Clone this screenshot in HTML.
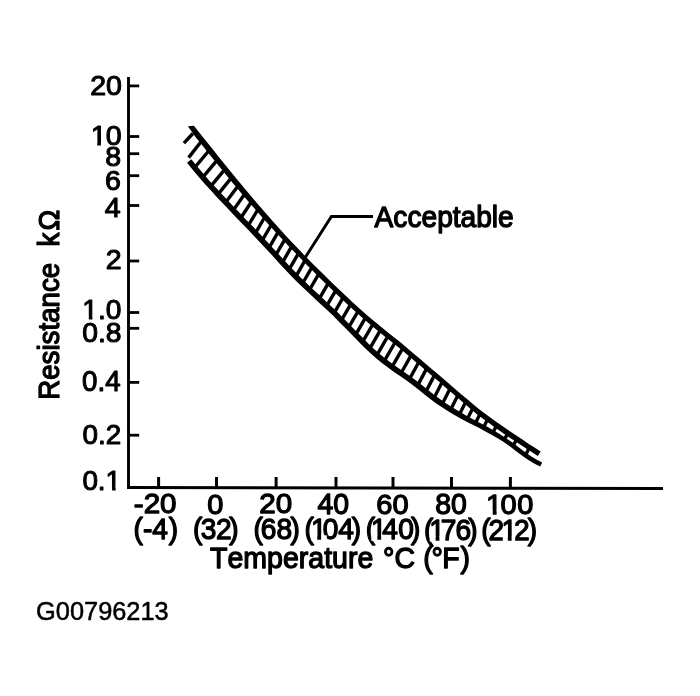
<!DOCTYPE html>
<html><head><meta charset="utf-8"><title>Resistance vs Temperature</title>
<style>
html,body{margin:0;padding:0;background:#fff;}
svg{display:block;}
text{font-family:"Liberation Sans",sans-serif;fill:#000;font-kerning:none;}
</style></head>
<body>
<svg width="700" height="696" viewBox="0 0 700 696">
<rect width="700" height="696" fill="#fff"/>
<g id="axes">
<line x1="128.5" y1="77" x2="128.5" y2="489" stroke="#000" stroke-width="2.9"/>
<line x1="127.3" y1="487.5" x2="663" y2="488.5" stroke="#000" stroke-width="3"/>
<line x1="129" y1="85.9" x2="139.2" y2="85.9" stroke="#000" stroke-width="2.8"/>
<line x1="129" y1="136.5" x2="139.2" y2="136.5" stroke="#000" stroke-width="2.8"/>
<line x1="129" y1="153.7" x2="139.2" y2="153.7" stroke="#000" stroke-width="2.8"/>
<line x1="129" y1="175.7" x2="139.2" y2="175.7" stroke="#000" stroke-width="2.8"/>
<line x1="129" y1="205.5" x2="139.2" y2="205.5" stroke="#000" stroke-width="2.8"/>
<line x1="129" y1="261" x2="139.2" y2="261" stroke="#000" stroke-width="2.8"/>
<line x1="129" y1="312.5" x2="139.2" y2="312.5" stroke="#000" stroke-width="2.8"/>
<line x1="129" y1="328.3" x2="139.2" y2="328.3" stroke="#000" stroke-width="2.8"/>
<line x1="129" y1="382.4" x2="139.2" y2="382.4" stroke="#000" stroke-width="2.8"/>
<line x1="129" y1="435.2" x2="139.2" y2="435.2" stroke="#000" stroke-width="2.8"/>
<line x1="158.6" y1="477" x2="158.6" y2="487.8" stroke="#000" stroke-width="3"/>
<line x1="216.5" y1="477" x2="216.5" y2="487.8" stroke="#000" stroke-width="3"/>
<line x1="276.1" y1="477" x2="276.1" y2="487.8" stroke="#000" stroke-width="3"/>
<line x1="336.0" y1="477" x2="336.0" y2="487.8" stroke="#000" stroke-width="3"/>
<line x1="393" y1="477" x2="393" y2="487.8" stroke="#000" stroke-width="3"/>
<line x1="451.5" y1="477" x2="451.5" y2="487.8" stroke="#000" stroke-width="3"/>
<line x1="510.4" y1="477" x2="510.4" y2="487.8" stroke="#000" stroke-width="3"/>
<polyline points="305.2,257.5 331.4,216.5 373,216.5" fill="none" stroke="#000" stroke-width="2.9"/>
</g>
<g id="band">
<polygon points="193.9,125.8 200.0,133.4 206.1,141.0 212.1,148.6 218.2,156.2 224.3,163.7 230.4,171.3 236.5,178.7 242.6,186.1 248.6,193.3 254.7,200.5 260.8,207.6 266.9,214.6 273.0,221.5 279.1,228.2 285.1,234.9 291.2,241.4 297.3,247.8 303.4,254.2 309.5,260.4 315.5,266.6 321.6,272.6 327.7,278.6 333.8,284.5 339.9,290.3 346.0,296.1 352.0,301.7 358.1,307.3 364.2,312.7 370.3,318.0 376.4,323.1 382.5,328.1 388.5,333.0 394.6,337.8 400.7,342.6 406.8,347.8 412.9,352.9 419.0,358.1 425.0,363.3 431.1,368.4 437.2,373.6 443.3,378.8 449.4,384.0 455.4,389.2 461.5,394.4 467.6,399.6 473.7,404.7 479.8,409.8 485.9,414.3 491.9,418.7 498.0,423.0 504.1,427.3 510.2,431.5 516.3,435.6 522.4,439.6 528.4,443.7 534.5,447.6 540.6,451.4 537.8,455.9 531.7,452.1 525.5,448.1 519.4,444.0 513.3,440.0 507.2,435.9 501.1,431.7 495.0,427.4 488.9,423.0 482.8,418.5 476.6,413.9 470.4,408.7 464.3,403.5 458.2,398.3 452.1,393.1 446.1,387.9 440.0,382.6 434.0,377.4 427.9,372.2 421.8,367.1 415.7,361.9 409.6,356.7 403.6,351.6 397.5,346.5 391.5,341.7 385.4,336.9 379.3,332.0 373.2,326.9 367.0,321.8 360.9,316.5 354.8,311.0 348.6,305.4 342.5,299.7 336.4,293.9 330.3,288.1 324.2,282.2 318.1,276.2 312.0,270.1 305.9,263.9 299.8,257.6 293.7,251.3 287.5,244.9 281.4,238.3 275.2,231.7 269.0,225.0 262.9,218.1 256.7,211.1 250.6,204.0 244.4,196.9 238.3,189.6 232.1,182.3 226.0,174.8 219.9,167.3 213.8,159.8 207.7,152.2 201.6,144.6 195.5,137.0 187.9,126.2" fill="#000"/>
<polygon points="187.0,162.8 193.1,170.3 199.2,177.5 205.3,184.4 211.4,191.1 217.4,197.7 223.5,204.1 229.6,210.5 235.7,216.9 241.8,223.3 247.9,229.5 254.0,235.9 260.1,242.4 266.2,249.0 272.3,255.6 278.3,262.2 284.4,268.8 290.5,275.2 296.6,281.4 302.7,287.3 308.8,293.1 314.9,298.7 321.0,304.4 327.1,310.0 333.2,315.8 339.2,321.9 345.3,328.1 351.4,334.3 357.5,340.5 363.6,346.7 369.7,352.6 375.8,358.1 381.9,363.0 388.0,367.6 394.0,371.9 400.1,376.1 406.2,380.3 412.3,384.7 418.4,389.5 424.5,394.4 430.6,399.2 436.7,403.7 442.8,407.8 448.9,411.7 454.9,415.3 461.0,418.7 467.1,421.9 473.2,425.1 479.3,428.1 485.4,431.4 491.5,434.8 497.6,438.3 503.7,442.1 509.8,446.3 515.8,450.9 521.9,455.4 528.0,459.8 534.1,463.6 540.2,466.6 542.2,462.5 536.4,459.6 530.6,456.0 524.6,451.7 518.6,447.2 512.4,442.6 506.2,438.3 500.0,434.3 493.8,430.6 487.7,427.1 481.6,423.8 475.5,420.6 469.5,417.4 463.6,414.1 457.6,410.6 451.7,407.0 445.8,403.2 439.9,399.1 434.0,394.7 428.0,390.0 421.9,385.1 415.7,380.3 409.5,375.8 403.3,371.5 397.3,367.3 391.3,363.1 385.3,358.6 379.4,353.8 373.5,348.5 367.5,342.7 361.5,336.6 355.4,330.4 349.3,324.2 343.2,317.9 337.1,311.8 330.9,305.9 324.8,300.3 318.7,294.6 312.6,289.0 306.6,283.3 300.6,277.4 294.6,271.3 288.5,265.0 282.5,258.4 276.4,251.8 270.3,245.2 264.2,238.6 258.1,232.0 251.9,225.6 245.8,219.4 239.8,213.1 233.7,206.7 227.6,200.3 221.5,193.8 215.5,187.3 209.4,180.7 203.4,173.8 197.4,166.8 191.3,159.3" fill="#000"/>
<line x1="192.9" y1="133.5" x2="183.9" y2="143.2" stroke="#000" stroke-width="3.4"/>
<line x1="201.6" y1="141.0" x2="188.6" y2="157.6" stroke="#000" stroke-width="3.4"/>
<line x1="209.1" y1="150.5" x2="194.4" y2="167.8" stroke="#000" stroke-width="3.4"/>
<line x1="217.0" y1="160.3" x2="202.7" y2="177.3" stroke="#000" stroke-width="3.4"/>
<line x1="224.6" y1="169.7" x2="210.7" y2="186.3" stroke="#000" stroke-width="3.4"/>
<line x1="231.3" y1="177.9" x2="218.0" y2="194.4" stroke="#000" stroke-width="3.4"/>
<line x1="238.0" y1="185.9" x2="225.6" y2="202.5" stroke="#000" stroke-width="3.4"/>
<line x1="244.7" y1="193.9" x2="233.1" y2="210.4" stroke="#000" stroke-width="3.4"/>
<line x1="251.4" y1="201.7" x2="240.6" y2="218.2" stroke="#000" stroke-width="3.4"/>
<line x1="258.0" y1="209.4" x2="248.0" y2="225.8" stroke="#000" stroke-width="3.4"/>
<line x1="264.8" y1="217.0" x2="255.3" y2="233.5" stroke="#000" stroke-width="3.4"/>
<line x1="271.5" y1="224.5" x2="262.1" y2="240.7" stroke="#000" stroke-width="3.4"/>
<line x1="278.2" y1="231.9" x2="268.9" y2="248.1" stroke="#000" stroke-width="3.4"/>
<line x1="285.0" y1="239.1" x2="275.6" y2="255.3" stroke="#000" stroke-width="3.4"/>
<line x1="291.8" y1="246.2" x2="282.3" y2="262.7" stroke="#000" stroke-width="3.4"/>
<line x1="298.5" y1="253.3" x2="289.0" y2="269.7" stroke="#000" stroke-width="3.4"/>
<line x1="305.2" y1="260.2" x2="295.8" y2="276.6" stroke="#000" stroke-width="3.4"/>
<line x1="312.0" y1="267.1" x2="302.5" y2="283.5" stroke="#000" stroke-width="3.4"/>
<line x1="318.8" y1="273.8" x2="309.4" y2="290.0" stroke="#000" stroke-width="3.4"/>
<line x1="328.3" y1="283.1" x2="319.1" y2="299.1" stroke="#000" stroke-width="3.4"/>
<line x1="335.8" y1="290.3" x2="326.6" y2="306.1" stroke="#000" stroke-width="3.4"/>
<line x1="343.2" y1="297.4" x2="334.1" y2="313.1" stroke="#000" stroke-width="3.4"/>
<line x1="350.6" y1="304.3" x2="341.4" y2="320.3" stroke="#000" stroke-width="3.4"/>
<line x1="358.1" y1="311.1" x2="348.6" y2="327.5" stroke="#000" stroke-width="3.4"/>
<line x1="365.5" y1="317.6" x2="355.6" y2="334.9" stroke="#000" stroke-width="3.4"/>
<line x1="373.0" y1="324.0" x2="362.6" y2="341.9" stroke="#000" stroke-width="3.4"/>
<line x1="380.4" y1="330.1" x2="369.6" y2="348.9" stroke="#000" stroke-width="3.4"/>
<line x1="387.9" y1="336.1" x2="376.8" y2="355.3" stroke="#000" stroke-width="3.4"/>
<line x1="395.3" y1="342.0" x2="384.1" y2="361.4" stroke="#000" stroke-width="3.4"/>
<line x1="402.8" y1="348.1" x2="391.9" y2="367.1" stroke="#000" stroke-width="3.4"/>
<line x1="411.2" y1="355.2" x2="400.9" y2="373.5" stroke="#000" stroke-width="3.4"/>
<line x1="419.0" y1="361.8" x2="409.4" y2="379.3" stroke="#000" stroke-width="3.4"/>
<line x1="426.7" y1="368.4" x2="417.7" y2="385.4" stroke="#000" stroke-width="3.4"/>
<line x1="434.5" y1="375.1" x2="425.8" y2="391.9" stroke="#000" stroke-width="3.4"/>
<line x1="442.3" y1="381.8" x2="433.9" y2="398.2" stroke="#000" stroke-width="3.4"/>
<line x1="450.1" y1="388.5" x2="442.1" y2="404.3" stroke="#000" stroke-width="3.4"/>
<line x1="457.9" y1="395.2" x2="450.6" y2="409.7" stroke="#000" stroke-width="3.4"/>
<line x1="465.7" y1="401.9" x2="459.2" y2="414.8" stroke="#000" stroke-width="3.4"/>
<line x1="472.9" y1="408.0" x2="467.3" y2="419.1" stroke="#000" stroke-width="3.4"/>
<line x1="480.1" y1="413.8" x2="475.3" y2="423.4" stroke="#000" stroke-width="3.4"/>
<line x1="487.6" y1="419.3" x2="483.4" y2="427.8" stroke="#000" stroke-width="3.4"/>
<line x1="496.4" y1="425.7" x2="492.8" y2="433.1" stroke="#000" stroke-width="3.4"/>
<line x1="507.5" y1="433.4" x2="504.3" y2="439.9" stroke="#000" stroke-width="3.4"/>
<line x1="516.4" y1="439.4" x2="513.2" y2="446.2" stroke="#000" stroke-width="3.4"/>
<line x1="529.1" y1="447.8" x2="525.5" y2="455.5" stroke="#000" stroke-width="3.4"/>
</g>
<g id="labels">
<text transform="translate(90.15,95.28) scale(0.9850,0.9850)" font-size="29" stroke="#000" stroke-width="1.1" stroke-linejoin="round">20</text>
<text transform="translate(0.00,145.28) scale(0.9850,0.9850)" font-size="29" x="92.02 107.32" stroke="#000" stroke-width="1.1" stroke-linejoin="round">10</text>
<text transform="translate(105.25,165.82) scale(0.9850,0.9850)" font-size="29" stroke="#000" stroke-width="1.1" stroke-linejoin="round">8</text>
<text transform="translate(105.05,190.28) scale(0.9850,0.9850)" font-size="29" stroke="#000" stroke-width="1.1" stroke-linejoin="round">6</text>
<text transform="translate(104.80,216.62) scale(0.9850,0.9850)" font-size="29" stroke="#000" stroke-width="1.1" stroke-linejoin="round">4</text>
<text transform="translate(105.80,269.45) scale(0.9850,0.9850)" font-size="29" stroke="#000" stroke-width="1.1" stroke-linejoin="round">2</text>
<text transform="translate(82.30,319.43) scale(0.9700,0.9850)" font-size="29" stroke="#000" stroke-width="1.1" stroke-linejoin="round">1.0</text>
<text transform="translate(82.30,342.23) scale(0.9750,0.9850)" font-size="29" stroke="#000" stroke-width="1.1" stroke-linejoin="round">0.8</text>
<text transform="translate(82.05,391.12) scale(0.9550,0.9850)" font-size="29" stroke="#000" stroke-width="1.1" stroke-linejoin="round">0.4</text>
<text transform="translate(82.55,444.48) scale(0.9600,0.9850)" font-size="29" stroke="#000" stroke-width="1.1" stroke-linejoin="round">0.2</text>
<text transform="translate(82.40,489.67) scale(0.9600,0.9850)" font-size="29" stroke="#000" stroke-width="1.1" stroke-linejoin="round">0.1</text>
<text transform="translate(133.80,513.20) scale(1.0200,0.9850)" font-size="29" stroke="#000" stroke-width="1.3" stroke-linejoin="round">-20</text>
<text transform="translate(207.18,513.95) scale(1.0000,0.9850)" font-size="29" stroke="#000" stroke-width="1.3" stroke-linejoin="round">0</text>
<text transform="translate(259.27,513.05) scale(1.0200,0.9850)" font-size="29" stroke="#000" stroke-width="1.3" stroke-linejoin="round">20</text>
<text transform="translate(317.52,513.55) scale(0.9800,0.9850)" font-size="29" stroke="#000" stroke-width="1.3" stroke-linejoin="round">40</text>
<text transform="translate(376.30,514.00) scale(1.0000,0.9850)" font-size="29" stroke="#000" stroke-width="1.3" stroke-linejoin="round">60</text>
<text transform="translate(435.27,514.15) scale(0.9800,0.9850)" font-size="29" stroke="#000" stroke-width="1.3" stroke-linejoin="round">80</text>
<text transform="translate(0.00,514.40) scale(1.0000,0.9850)" font-size="29" x="486.10 500.39 517.19" stroke="#000" stroke-width="1.3" stroke-linejoin="round">100</text>
<text transform="translate(0.00,539.12) scale(0.9700,1.0000)" font-size="29" x="137.74 147.34 156.87 173.95" stroke="#000" stroke-width="1.3" stroke-linejoin="round">(-4)</text>
<text transform="translate(0.00,539.03) scale(0.9700,1.0000)" font-size="29" x="198.97 206.92 222.71 236.42" stroke="#000" stroke-width="1.3" stroke-linejoin="round">(32)</text>
<text transform="translate(0.00,539.03) scale(0.9700,1.0000)" font-size="29" x="261.45 268.85 285.18 299.41" stroke="#000" stroke-width="1.3" stroke-linejoin="round">(68)</text>
<text transform="translate(0.00,539.12) scale(0.9700,1.0000)" font-size="29" x="314.03 320.51 332.71 348.73 362.61" stroke="#000" stroke-width="1.3" stroke-linejoin="round">(104)</text>
<text transform="translate(0.00,539.38) scale(0.9700,1.0000)" font-size="29" x="377.12 382.36 394.09 410.49 423.84" stroke="#000" stroke-width="1.3" stroke-linejoin="round">(140)</text>
<text transform="translate(0.00,539.92) scale(0.9700,1.0000)" font-size="29" x="437.12 442.47 454.34 469.62 482.81" stroke="#000" stroke-width="1.3" stroke-linejoin="round">(176)</text>
<text transform="translate(0.00,540.47) scale(0.9700,1.0000)" font-size="29" x="496.19 503.74 516.90 529.93 544.15" stroke="#000" stroke-width="1.3" stroke-linejoin="round">(212)</text>
<text transform="translate(374.59,226.51) scale(0.9703,1.0211)" font-size="29" stroke="#000" stroke-width="1.3" stroke-linejoin="round">Acceptable</text>
<text transform="translate(36.10,620.19) scale(0.9989,1.0162)" font-size="25.4" stroke="#000" stroke-width="0.5" stroke-linejoin="round">G00796213</text>
<text transform="translate(0,567.94) scale(0.9834,0.995)" font-size="29" stroke="#000" stroke-width="1.3" stroke-linejoin="round"><tspan x="213.66">Temperature </tspan><tspan x="389.51">°C </tspan><tspan x="430.34 438.90 449.79 468.29">(°F)</tspan></text>
<text transform="translate(59.18,399.87) scale(1.0200,0.9560) rotate(-90)" font-size="29" stroke="#000" stroke-width="1.3" stroke-linejoin="round">Resistance <tspan x="160.42 177.06">kΩ</tspan></text>
</g>
<g id="one-foot-mask">
<rect x="91.27" y="141.59" width="5.99" height="5.23" fill="#fff"/>
<rect x="100.92" y="141.59" width="5.76" height="5.23" fill="#fff"/>
<rect x="82.89" y="315.74" width="5.91" height="5.23" fill="#fff"/>
<rect x="92.43" y="315.74" width="5.69" height="5.23" fill="#fff"/>
<rect x="106.19" y="485.99" width="5.86" height="5.23" fill="#fff"/>
<rect x="115.65" y="485.99" width="5.64" height="5.23" fill="#fff"/>
<rect x="486.66" y="510.62" width="6.06" height="5.43" fill="#fff"/>
<rect x="496.62" y="510.62" width="5.84" height="5.43" fill="#fff"/>
<rect x="311.38" y="535.31" width="5.91" height="5.47" fill="#fff"/>
<rect x="321.12" y="535.31" width="5.69" height="5.47" fill="#fff"/>
<rect x="371.38" y="535.56" width="5.91" height="5.47" fill="#fff"/>
<rect x="381.12" y="535.56" width="5.69" height="5.47" fill="#fff"/>
<rect x="429.68" y="536.11" width="5.91" height="5.47" fill="#fff"/>
<rect x="439.42" y="536.11" width="5.69" height="5.47" fill="#fff"/>
<rect x="502.80" y="536.66" width="5.00" height="5.47" fill="#fff"/>
<rect x="511.62" y="536.66" width="3.58" height="5.47" fill="#fff"/>
</g>
</svg>
</body></html>
